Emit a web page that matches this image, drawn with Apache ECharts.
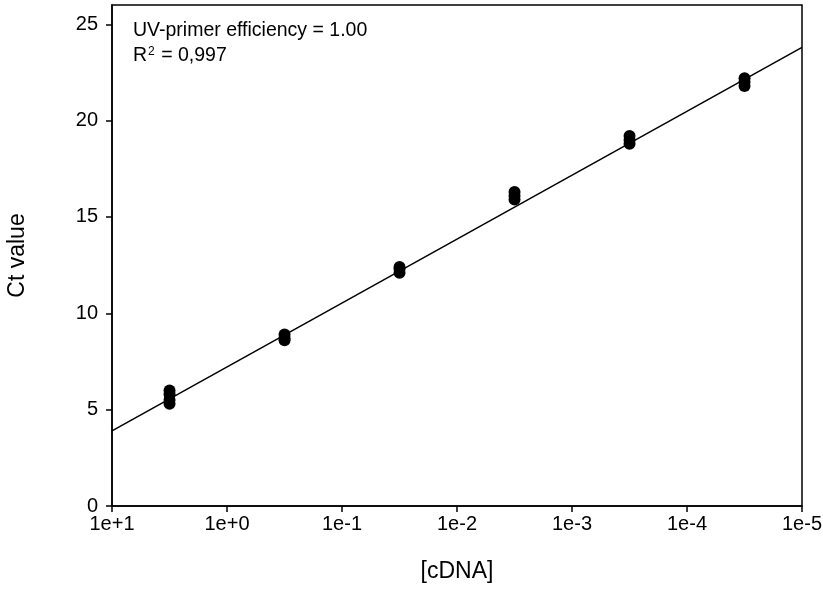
<!DOCTYPE html>
<html>
<head>
<meta charset="utf-8">
<script src="https://cdn.jsdelivr.net/npm/echarts@6/dist/echarts.min.js"></script>
<style>
  html, body { margin: 0; padding: 0; background: #fff; }
  #main { width: 823px; height: 591px; }
</style>
</head>
<body>
<div id="main"></div>
<script>
// dilution points (half decade between tick marks)
var cdna = [3.16, 0.316, 0.0316, 0.00316, 0.000316, 0.0000316];
// Ct replicates per dilution
var ctValues = [
  [5.3, 5.5, 5.8, 6.0],
  [8.6, 8.7, 8.9],
  [12.1, 12.3, 12.4],
  [15.9, 16.1, 16.3],
  [18.8, 19.0, 19.2],
  [21.8, 22.0, 22.2]
];
// fitted line ends
var fitX = [10, 0.00001];
var fitY = [3.9, 23.8];
var yTicks = [0, 5, 10, 15, 20, 25];

var points = [];
for (var i = 0; i < cdna.length; i++) {
  for (var j = 0; j < ctValues[i].length; j++) {
    points.push([cdna[i], ctValues[i][j]]);
  }
}
var fitLine = [[fitX[0], fitY[0]], [fitX[1], fitY[1]]];

var font = 'Liberation Sans, Arial, sans-serif';
var chart = echarts.init(document.getElementById('main'));

chart.setOption({
  animation: false,
  backgroundColor: '#fff',
  grid: {
    left: 112, right: 21, top: 5, bottom: 85,
    containLabel: false,
    outerBoundsMode: 'none',
    show: true, borderColor: '#000', borderWidth: 1.5, backgroundColor: 'transparent'
  },
  xAxis: {
    type: 'log',
    logBase: 10,
    min: 0.00001,
    max: 10,
    inverse: true,
    name: '[cDNA]',
    nameLocation: 'middle',
    nameGap: 54,
    nameTextStyle: { fontFamily: font, fontSize: 23, color: '#000' },
    axisLine: { lineStyle: { color: '#000', width: 1.5 } },
    axisTick: { inside: false, length: 6, lineStyle: { color: '#000', width: 1.5 } },
    minorTick: { show: false },
    splitLine: { show: false },
    axisLabel: {
      margin: 8,
      fontFamily: font, fontSize: 20, color: '#000',
      formatter: function (v) {
        var e = Math.round(Math.log10(v));
        return e >= 0 ? '1e+' + e : '1e' + e;
      }
    }
  },
  yAxis: {
    type: 'value',
    min: 0,
    max: 26,
    interval: 5,
    name: 'Ct value',
    nameLocation: 'middle',
    nameGap: 83,
    nameTextStyle: { fontFamily: font, fontSize: 23, color: '#000' },
    axisLine: { lineStyle: { color: '#000', width: 1.5 } },
    axisTick: { inside: false, length: 6, customValues: yTicks, lineStyle: { color: '#000', width: 1.5 } },
    splitLine: { show: false },
    axisLabel: {
      margin: 14,
      customValues: yTicks,
      fontFamily: font, fontSize: 20, color: '#000',
      formatter: function (v) {
        return yTicks.indexOf(v) >= 0 ? String(v) : '';
      }
    }
  },
  graphic: [{
    type: 'text',
    left: 133,
    top: 21,
    style: {
      text: 'UV-primer efficiency = 1.00',
      font: '19.5px ' + font,
      fill: '#000'
    }
  }, {
    type: 'text',
    left: 133,
    top: 46,
    style: {
      text: '{a|R}{s|2}{a| = 0,997}',
      font: '19.5px ' + font,
      fill: '#000',
      rich: {
        a: { fontFamily: font, fontSize: 19.5, fill: '#000' },
        s: { fontFamily: font, fontSize: 12, fill: '#000', verticalAlign: 'top', padding: [0, 1, 8, 1] }
      }
    }
  }],
  series: [{
    type: 'line',
    data: fitLine,
    symbol: 'none',
    lineStyle: { color: '#000', width: 1.5 },
    z: 2
  }, {
    type: 'scatter',
    data: points,
    symbol: 'circle',
    symbolSize: 12,
    itemStyle: { color: '#000', opacity: 1 },
    z: 3
  }]
});
</script>
</body>
</html>
